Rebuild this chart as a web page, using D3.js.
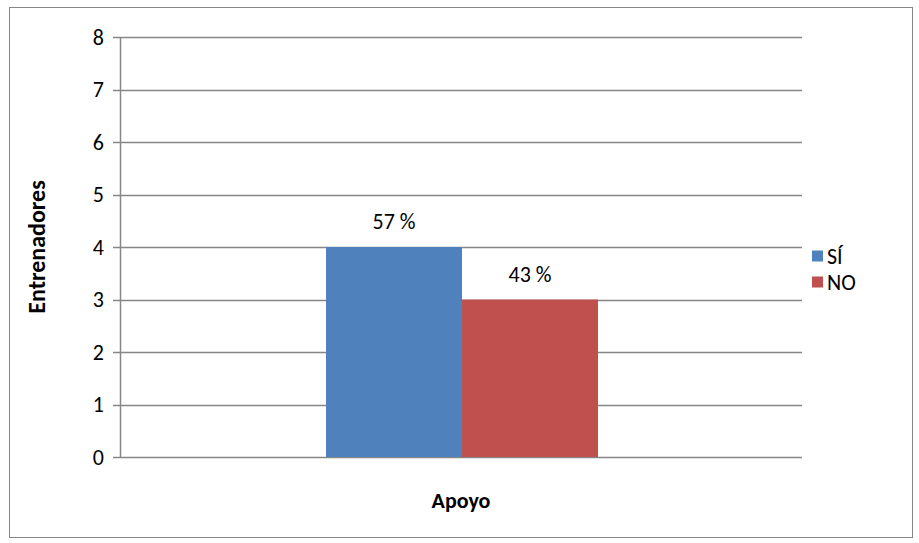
<!DOCTYPE html>
<html>
<head>
<meta charset="utf-8">
<script src="https://cdn.jsdelivr.net/npm/d3@7"></script>
<style>
  html, body { margin: 0; padding: 0; background: #fff; }
  svg { display: block; font-family: Carlito, Calibri, Lato, "Open Sans", sans-serif; }
</style>
</head>
<body>
<svg id="chart" width="919" height="543"></svg>
<script>
// Data
const categories = ["Apoyo"];
const seriesNames = ["SÍ", "NO"];
const seriesValues = [4, 3];
const seriesLabels = ["57 %", "43 %"];
const seriesColors = ["#4f81bd", "#c0504d"];
const yTicks = [0, 1, 2, 3, 4, 5, 6, 7, 8];

const FS = 22;
const svg = d3.select("#chart");
const plot = { left: 120, right: 802, top: 37, bottom: 457 };

// outer frame
svg.append("rect")
  .attr("x", 9.5).attr("y", 7.5)
  .attr("width", 903).attr("height", 530)
  .attr("fill", "#fff").attr("stroke", "#868686").attr("stroke-width", 1);

const y = d3.scaleLinear().domain([0, 8]).range([plot.bottom, plot.top]);
const x0 = d3.scaleBand().domain(categories).range([plot.left, plot.right]);
const x1 = d3.scaleBand().domain(seriesNames).range([326 - plot.left, 598 - plot.left]);

// gridlines
svg.append("g")
  .selectAll("line")
  .data(yTicks)
  .join("line")
  .attr("x1", plot.left - 7).attr("x2", plot.right)
  .attr("y1", d => Math.round(y(d)) + 0.5).attr("y2", d => Math.round(y(d)) + 0.5)
  .attr("stroke", "#868686").attr("stroke-width", 1.5);

// y axis line
svg.append("line")
  .attr("x1", plot.left + 0.5).attr("x2", plot.left + 0.5)
  .attr("y1", plot.top).attr("y2", plot.bottom)
  .attr("stroke", "#868686").attr("stroke-width", 1.5);

// tick labels
svg.append("g")
  .selectAll("text")
  .data(yTicks)
  .join("text")
  .attr("x", 104)
  .attr("y", d => y(d))
  .attr("dy", "0.36em")
  .attr("text-anchor", "end")
  .attr("font-size", FS)
  .attr("fill", "#000")
  .text(d => d);

// bars
const groups = svg.append("g")
  .selectAll("g")
  .data(categories)
  .join("g")
  .attr("transform", d => `translate(${x0(d)},0)`);

seriesNames.forEach((name, i) => {
  groups.append("rect")
    .attr("x", x1(name))
    .attr("width", x1.bandwidth())
    .attr("y", y(seriesValues[i]))
    .attr("height", y(0) - y(seriesValues[i]))
    .attr("fill", seriesColors[i]);
  groups.append("text")
    .attr("x", x1(name) + x1.bandwidth() / 2)
    .attr("y", y(seriesValues[i]) - 18)
    .attr("text-anchor", "middle")
    .attr("font-size", FS)
    .attr("fill", "#000")
    .text(seriesLabels[i]);
});

// axis titles
svg.append("text")
  .attr("x", (plot.left + plot.right) / 2)
  .attr("y", 508)
  .attr("text-anchor", "middle")
  .attr("font-size", FS)
  .attr("font-weight", "bold")
  .text(categories[0]);

svg.append("text")
  .attr("transform", `translate(45,${(plot.top + plot.bottom) / 2}) rotate(-90)`)
  .attr("text-anchor", "middle")
  .attr("font-size", 24)
  .attr("font-weight", "bold")
  .text("Entrenadores");

// legend
const legend = svg.append("g")
  .selectAll("g")
  .data(seriesNames)
  .join("g")
  .attr("transform", (d, i) => `translate(812,${256 + i * 26})`);
legend.append("rect")
  .attr("x", 0).attr("y", -5.5)
  .attr("width", 11).attr("height", 11)
  .attr("fill", (d, i) => seriesColors[i]);
legend.append("text")
  .attr("x", 15).attr("y", 0).attr("dy", "0.36em")
  .attr("font-size", FS)
  .text(d => d);
</script>
</body>
</html>
